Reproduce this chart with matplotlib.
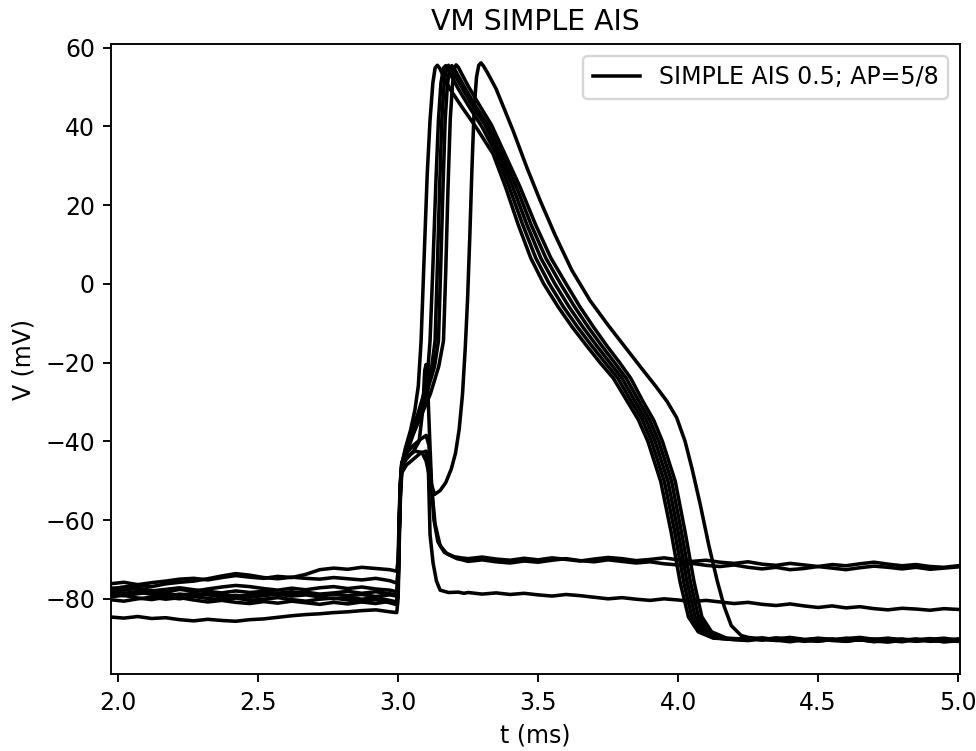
import numpy as np
import matplotlib
matplotlib.use("Agg")
import matplotlib.pyplot as plt

# membrane potential traces (t in ms, V in mV)
# 9 sweeps: 6 with an AP, 3 failures

t_pre = [1.97, 2.02, 2.07, 2.12, 2.17, 2.22, 2.27, 2.32, 2.37, 2.42, 2.47,
         2.52, 2.57, 2.62, 2.67, 2.72, 2.77, 2.82, 2.87, 2.92, 2.97]

t_fail_tail = [3.25, 3.3, 3.35, 3.4, 3.45, 3.5, 3.55, 3.6, 3.65, 3.7, 3.75, 3.8,
               3.85, 3.9, 3.95, 4.0, 4.05, 4.1, 4.15, 4.2, 4.25, 4.3, 4.35, 4.4,
               4.45, 4.5, 4.55, 4.6, 4.65, 4.7, 4.75, 4.8, 4.85, 4.9, 4.95, 5.0]

t_ap_tail = [4.25, 4.3, 4.35, 4.4, 4.45, 4.5, 4.55, 4.6, 4.65, 4.7, 4.75, 4.8,
             4.85, 4.9, 4.95, 5.0]

# baselines before the stimulus
f1_pre = [-76.2, -75.8, -76.4, -75.9, -75.5, -75.0, -74.8, -75.2, -74.6, -74.1, -74.5,
          -74.8, -74.3, -74.6, -73.8, -72.6, -72.2, -72.5, -72.0, -72.3, -72.6]
f2_pre = [-77.5, -77.0, -76.6, -76.9, -76.2, -75.8, -75.5, -74.9, -74.2, -73.6, -74.0,
          -74.6, -74.9, -74.5, -74.8, -75.0, -74.6, -74.9, -75.2, -74.8, -75.4]
f3_pre = [-84.6, -84.9, -84.5, -85.0, -84.8, -85.3, -85.6, -85.2, -85.5, -85.7, -85.3,
          -85.1, -84.7, -84.3, -84.0, -83.8, -83.5, -83.3, -83.0, -82.8, -83.3]
a1_pre = [-78.0, -78.6, -78.2, -78.9, -79.3, -78.8, -79.2, -78.5, -78.9, -79.4, -79.0,
          -78.6, -79.1, -78.7, -78.3, -78.8, -78.5, -78.1, -78.6, -78.2, -78.7]
a2_pre = [-79.5, -79.1, -79.8, -80.2, -79.6, -80.0, -79.4, -79.9, -80.3, -79.8, -80.4,
          -80.1, -79.7, -80.2, -80.6, -80.1, -79.8, -80.3, -80.7, -80.2, -81.0]
a3_pre = [-77.2, -77.8, -77.3, -77.9, -78.3, -77.6, -78.1, -77.5, -77.0, -76.6, -76.9,
          -77.4, -77.8, -77.3, -77.7, -77.2, -76.9, -77.4, -77.0, -77.5, -77.8]
a4_pre = [-80.2, -80.6, -80.0, -79.6, -80.1, -79.7, -80.3, -80.8, -80.4, -80.9, -81.2,
          -80.7, -81.1, -80.6, -81.0, -81.4, -80.9, -81.3, -80.8, -81.2, -80.6]
a5_pre = [-78.8, -79.2, -78.7, -78.3, -78.7, -79.1, -78.6, -79.0, -79.5, -79.1, -79.6,
          -79.2, -78.8, -79.3, -79.0, -79.5, -80.0, -79.6, -80.1, -79.7, -80.4]
a6_pre = [-77.5, -77.1, -77.6, -78.0, -77.6, -77.2, -77.7, -78.1, -78.5, -78.0, -78.4,
          -78.1, -78.6, -78.2, -78.7, -79.1, -78.8, -79.2, -78.9, -79.4, -79.0]

# stimulus / spike part, (t, V)
f1_event = [(2.995, -73.0), (3.0, -70.0), (3.004, -58.0), (3.008, -50.0), (3.013, -45.5),
            (3.03, -43.0), (3.055, -41.0), (3.08, -39.5), (3.1, -38.5), (3.11, -41.0),
            (3.118, -50.0), (3.128, -60.0), (3.142, -65.5), (3.165, -68.2), (3.2, -69.3),
            (3.225, -69.6)]
f2_event = [(2.995, -76.0), (3.0, -73.0), (3.004, -60.0), (3.008, -51.0), (3.013, -46.5),
            (3.03, -44.5), (3.055, -42.5), (3.075, -40.0), (3.088, -32.0), (3.095, -22.0),
            (3.1, -20.5), (3.105, -25.0), (3.112, -38.0), (3.12, -52.0), (3.132, -61.0),
            (3.15, -66.5), (3.175, -68.6), (3.21, -69.8), (3.235, -70.2)]
f3_event = [(2.995, -83.5), (3.0, -80.0), (3.004, -66.0), (3.008, -55.0), (3.013, -48.0),
            (3.03, -46.0), (3.055, -44.5), (3.08, -43.0), (3.1, -42.5), (3.108, -47.0),
            (3.114, -63.7), (3.125, -71.0), (3.137, -75.5), (3.15, -77.8), (3.18, -78.4),
            (3.215, -78.3), (3.235, -78.6)]

a1_event = [(2.995, -79.0), (3.0, -75.0), (3.004, -62.0), (3.008, -52.0), (3.013, -46.0),
            (3.025, -42.0), (3.045, -37.0), (3.06, -32.0), (3.072, -26.0), (3.082, -14.5),
            (3.092, 5.0), (3.104, 28.0), (3.114, 41.6), (3.124, 51.0), (3.132, 54.8),
            (3.14, 55.5), (3.148, 54.8), (3.16, 53.0), (3.185, 49.5), (3.225, 45.2),
            (3.28, 39.6), (3.339, 33.0), (3.384, 24.5), (3.429, 15.0), (3.474, 6.5),
            (3.52, 0.0), (3.571, -5.8), (3.622, -11.0), (3.674, -15.8), (3.721, -20.0),
            (3.769, -24.0), (3.818, -29.8), (3.858, -34.5), (3.892, -40.0), (3.938, -50.2),
            (3.975, -63.0), (4.007, -75.7), (4.037, -84.6), (4.072, -88.4), (4.126, -90.0),
            (4.2, -90.2)]
a2_event = [(2.995, -81.5), (3.0, -77.0), (3.004, -63.0), (3.008, -53.0), (3.013, -47.0),
            (3.03, -43.0), (3.05, -39.0), (3.075, -33.0), (3.095, -27.0), (3.106, -22.0),
            (3.114, -14.5), (3.124, 4.0), (3.135, 26.0), (3.144, 41.6), (3.153, 51.0),
            (3.162, 54.8), (3.17, 55.4), (3.178, 54.6), (3.19, 52.8), (3.215, 49.5),
            (3.255, 44.8), (3.3, 39.8), (3.35, 33.0), (3.397, 24.5), (3.445, 15.0),
            (3.492, 6.5), (3.54, 0.0), (3.59, -5.8), (3.641, -11.0), (3.692, -15.8),
            (3.739, -20.0), (3.785, -24.0), (3.832, -29.8), (3.872, -34.5), (3.905, -40.0),
            (3.951, -50.2), (3.988, -63.0), (4.02, -75.7), (4.049, -84.6), (4.084, -88.4),
            (4.138, -90.0), (4.2, -90.3)]
a3_event = [(2.995, -78.2), (3.0, -74.0), (3.004, -61.0), (3.008, -51.0), (3.013, -45.5),
            (3.03, -41.5), (3.05, -37.5), (3.075, -32.0), (3.1, -26.0), (3.12, -21.0),
            (3.132, -14.5), (3.14, 4.0), (3.148, 24.0), (3.156, 41.6), (3.164, 50.5),
            (3.172, 54.6), (3.18, 55.5), (3.19, 54.6), (3.205, 52.6), (3.228, 49.8),
            (3.265, 45.2), (3.31, 40.4), (3.36, 33.0), (3.41, 24.5), (3.46, 15.0),
            (3.51, 6.5), (3.56, 0.0), (3.61, -5.8), (3.66, -11.0), (3.71, -15.8),
            (3.756, -20.0), (3.8, -24.0), (3.846, -29.8), (3.885, -34.5), (3.918, -40.0),
            (3.964, -50.2), (4.0, -63.0), (4.032, -75.7), (4.061, -84.6), (4.096, -88.4),
            (4.15, -90.0), (4.2, -90.4)]
a4_event = [(2.995, -81.0), (3.0, -76.5), (3.004, -63.0), (3.008, -53.0), (3.013, -47.0),
            (3.03, -42.5), (3.05, -38.5), (3.08, -32.5), (3.105, -27.0), (3.13, -21.0),
            (3.144, -14.5), (3.152, 4.0), (3.16, 24.0), (3.168, 41.6), (3.176, 50.5),
            (3.184, 54.6), (3.192, 55.4), (3.2, 54.7), (3.215, 52.8), (3.24, 49.6),
            (3.278, 45.0), (3.322, 40.2), (3.37, 33.0), (3.423, 24.5), (3.475, 15.0),
            (3.528, 6.5), (3.58, 0.0), (3.63, -5.8), (3.679, -11.0), (3.728, -15.8),
            (3.773, -20.0), (3.815, -24.0), (3.86, -29.8), (3.898, -34.5), (3.931, -40.0),
            (3.977, -50.2), (4.012, -63.0), (4.044, -75.7), (4.073, -84.6), (4.108, -88.4),
            (4.162, -90.0), (4.22, -90.3)]
a5_event = [(2.995, -80.8), (3.0, -76.0), (3.004, -62.0), (3.008, -52.0), (3.013, -46.0),
            (3.03, -42.0), (3.055, -38.0), (3.085, -33.0), (3.115, -28.0), (3.145, -21.0),
            (3.162, -14.5), (3.17, 3.0), (3.178, 24.0), (3.186, 41.6), (3.194, 50.5),
            (3.2, 54.5), (3.207, 55.6), (3.215, 55.0), (3.228, 53.2), (3.252, 50.0),
            (3.29, 45.4), (3.333, 40.4), (3.381, 33.0), (3.436, 24.5), (3.491, 15.0),
            (3.546, 6.5), (3.6, 0.0), (3.649, -5.8), (3.698, -11.0), (3.746, -15.8),
            (3.791, -20.0), (3.831, -24.0), (3.874, -29.8), (3.912, -34.5), (3.944, -40.0),
            (3.99, -50.2), (4.025, -63.0), (4.057, -75.7), (4.085, -84.6), (4.12, -88.4),
            (4.174, -90.0), (4.23, -90.2)]
a6_event = [(2.995, -79.3), (3.0, -75.0), (3.004, -62.0), (3.008, -52.0), (3.013, -46.5),
            (3.03, -44.0), (3.06, -42.5), (3.085, -42.8), (3.1, -45.0), (3.115, -50.0),
            (3.13, -53.5), (3.15, -52.5), (3.17, -50.5), (3.19, -47.0), (3.205, -43.0),
            (3.218, -37.0), (3.23, -28.0), (3.24, -16.0), (3.248, -4.0), (3.256, 12.0),
            (3.264, 30.0), (3.272, 45.0), (3.28, 52.5), (3.288, 55.5), (3.296, 56.1),
            (3.305, 55.3), (3.32, 53.5), (3.35, 49.5), (3.41, 39.0), (3.46, 29.5),
            (3.507, 21.2), (3.56, 12.5), (3.62, 3.5), (3.686, -4.3), (3.75, -10.5),
            (3.81, -16.0), (3.87, -21.5), (3.92, -26.0), (3.96, -29.8), (3.995, -34.0),
            (4.025, -40.0), (4.05, -47.0), (4.079, -56.0), (4.11, -66.5), (4.14, -75.5),
            (4.165, -82.0), (4.19, -86.8), (4.225, -89.3)]

# after the event
f1_tail = [-69.8, -69.4, -69.9, -70.2, -69.7, -70.1, -69.6, -70.0, -70.4, -69.9, -69.5, -69.8,
           -70.3, -70.0, -69.6, -70.1, -70.5, -70.2, -70.7, -71.0, -70.6, -71.2, -71.5, -71.0,
           -71.4, -71.8, -71.3, -71.6, -71.1, -70.7, -71.2, -71.6, -71.3, -71.8, -72.0, -71.6]
f2_tail = [-70.5, -70.1, -70.6, -70.9, -70.4, -70.7, -70.2, -69.8, -70.3, -70.6, -70.1, -70.5,
           -70.9, -70.6, -71.1, -71.4, -71.0, -71.5, -71.8, -71.4, -72.0, -72.4, -72.0, -72.6,
           -72.3, -71.8, -72.2, -72.6, -72.1, -71.7, -72.0, -72.4, -72.0, -72.5, -72.2, -71.9]
f3_tail = [-78.4, -78.8, -78.5, -78.9, -78.6, -79.0, -79.3, -78.9, -79.2, -79.6, -80.0, -79.7,
           -80.1, -80.4, -80.0, -80.3, -80.7, -80.4, -80.8, -81.2, -80.9, -81.4, -81.7, -81.3,
           -81.8, -82.2, -81.8, -82.3, -82.0, -82.5, -82.8, -82.4, -82.6, -82.9, -82.5, -82.7]

a1_tail = [-90.4, -90.1, -90.6, -90.3, -90.8, -90.5, -90.2, -90.7, -90.4, -90.9, -90.6, -90.3,
           -90.8, -90.5, -90.9, -90.6]
a2_tail = [-90.0, -90.5, -90.2, -89.8, -90.3, -90.7, -90.4, -90.0, -90.5, -90.2, -90.6, -90.9,
           -90.4, -90.1, -90.6, -90.3]
a3_tail = [-90.6, -90.2, -90.5, -90.9, -90.4, -90.1, -90.6, -90.8, -90.3, -90.7, -91.0, -90.5,
           -90.2, -90.7, -90.4, -90.8]
a4_tail = [-90.1, -90.4, -89.9, -90.3, -90.6, -90.2, -90.5, -90.1, -89.8, -90.3, -90.0, -90.4,
           -90.7, -90.3, -90.0, -90.5]
a5_tail = [-90.3, -89.9, -90.4, -90.1, -90.5, -90.8, -90.3, -90.6, -90.2, -90.5, -90.1, -90.6,
           -90.3, -90.8, -90.5, -90.2]
a6_tail = [-89.8, -90.2, -90.5, -90.1, -90.4, -90.0, -90.3, -90.7, -90.4, -90.8, -90.5, -90.2,
           -90.6, -90.4, -90.9, -90.7]

sweeps = [
    (a1_pre, a1_event, t_ap_tail, a1_tail),
    (a2_pre, a2_event, t_ap_tail, a2_tail),
    (a3_pre, a3_event, t_ap_tail, a3_tail),
    (a4_pre, a4_event, t_ap_tail, a4_tail),
    (a5_pre, a5_event, t_ap_tail, a5_tail),
    (a6_pre, a6_event, t_ap_tail, a6_tail),
    (f1_pre, f1_event, t_fail_tail, f1_tail),
    (f2_pre, f2_event, t_fail_tail, f2_tail),
    (f3_pre, f3_event, t_fail_tail, f3_tail),
]

fig = plt.figure(figsize=(976 / 170, 751 / 170), dpi=170)
ax = fig.add_axes([0.1142, 0.1025, 0.8694, 0.8389])

for i, (pre, event, t_tail, tail) in enumerate(sweeps):
    ev_t, ev_v = zip(*event)
    t = np.concatenate([t_pre, ev_t, t_tail])
    v = np.concatenate([pre, ev_v, tail])
    ax.plot(t, v, color='black', label='SIMPLE AIS 0.5; AP=5/8' if i == 0 else None)

ax.set_xlim(1.976, 5.007)
ax.set_ylim(-99.1, 60.9)
ax.set_xlabel('t (ms)')
ax.set_ylabel('V (mV)')
ax.set_title('VM SIMPLE AIS')
ax.legend(loc='upper right')

fig.savefig('out.png', dpi=170)
